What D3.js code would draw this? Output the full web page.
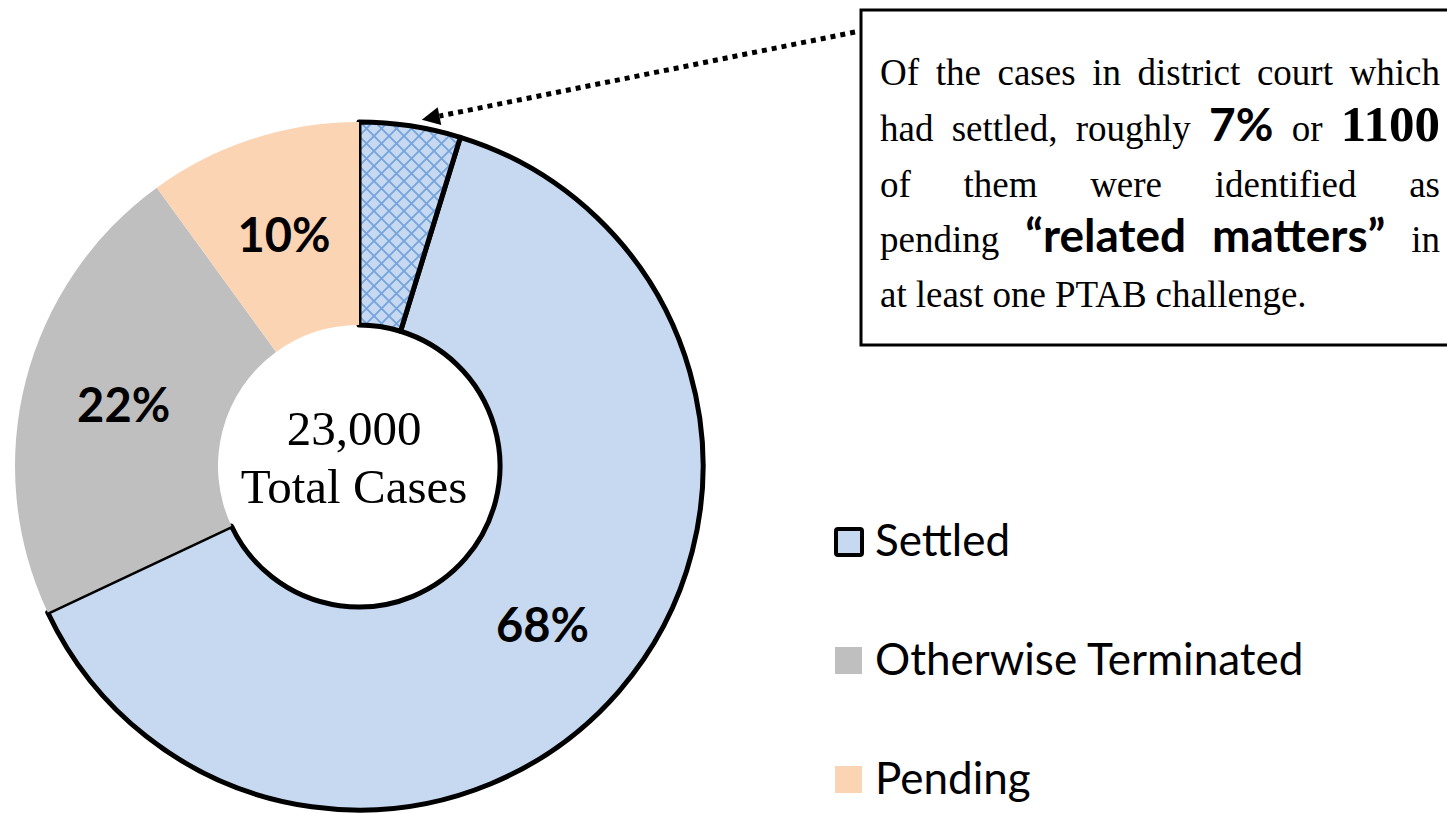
<!DOCTYPE html>
<html>
<head>
<meta charset="utf-8">
<script src="https://cdn.jsdelivr.net/npm/d3@7"></script>
<style>
  body { margin: 0; background: #fff; }
  svg { display: block; }
</style>
</head>
<body>
<div id="chart"></div>
<script>
// chart data
const categories = ["Settled", "Otherwise Terminated", "Pending"];
const shares = [68, 22, 10];
const colors = ["#c6d9f0", "#bfbfbf", "#fbd4b4"];
const relatedPctOfSettled = 7;   // hatched part of the settled slice
const totalLabel = ["23,000", "Total Cases"];

// callout text, one entry per line (b = bold run)
const noteLines = [
  [{t: "Of the cases in district court which"}],
  [{t: "had settled, roughly"}, {t: "7%", b: "sans"}, {t: "or"}, {t: "1100", b: "serif"}],
  [{t: "of them were identified as"}],
  [{t: "pending"}, {t: "\u201crelated matters\u201d", b: "sans"}, {t: "in"}],
  [{t: "at least one PTAB challenge."}]
];

const width = 1447, height = 813;
const cx = 359, cy = 466, outerR = 344, innerR = 141;

const svg = d3.select("#chart")
  .append("svg")
  .attr("width", width)
  .attr("height", height);

// crosshatch pattern for the related-matters part
const defs = svg.append("defs");
const tile = 15;
const pat = defs.append("pattern")
  .attr("id", "hatch")
  .attr("patternUnits", "userSpaceOnUse")
  .attr("width", tile).attr("height", tile);
pat.append("rect").attr("width", tile).attr("height", tile).attr("fill", colors[0]);
pat.append("path")
  .attr("d", `M0,0L${tile},${tile}M${tile},0L0,${tile}`)
  .attr("stroke", "#74a3de").attr("stroke-width", 1.8);

const g = svg.append("g").attr("transform", `translate(${cx},${cy})`);

const pie = d3.pie().sort(null).value(d => d)(shares);
const arc = d3.arc().innerRadius(innerR).outerRadius(outerR);

// split settled slice into hatched + plain
const s = pie[0];
const splitAngle = s.startAngle + (s.endAngle - s.startAngle) * relatedPctOfSettled / 100;
const settledRest = {startAngle: splitAngle, endAngle: s.endAngle};
const settledRel = {startAngle: s.startAngle, endAngle: splitAngle};

g.append("path")
  .attr("d", arc(settledRest))
  .attr("fill", colors[0])
  .attr("stroke", "#000").attr("stroke-width", 5).attr("stroke-linejoin", "round");
g.append("path")
  .attr("d", arc(settledRel))
  .attr("fill", "url(#hatch)")
  .attr("stroke", "#000").attr("stroke-width", 5).attr("stroke-linejoin", "round");

// other slices drawn over, hiding half of the settled outline
g.selectAll(".other")
  .data(pie.slice(1))
  .join("path")
  .attr("class", "other")
  .attr("d", arc)
  .attr("fill", (d, i) => colors[i + 1]);

// percentage labels
const labelArc = d3.arc().innerRadius(243).outerRadius(243);
const labelSlices = [settledRest, pie[1], pie[2]];
g.selectAll(".pct")
  .data(labelSlices)
  .join("text")
  .attr("class", "pct")
  .attr("transform", d => `translate(${labelArc.centroid(d)})`)
  .attr("text-anchor", "middle")
  .attr("dy", "0.36em")
  .style("font-family", "Lato, 'Open Sans', sans-serif")
  .style("font-weight", "bold")
  .style("font-size", "47px")
  .text((d, i) => shares[i] + "%");

// centre text
g.selectAll(".center")
  .data(totalLabel)
  .join("text")
  .attr("class", "center")
  .attr("x", -5)
  .attr("y", (d, i) => -21 + i * 58)
  .attr("text-anchor", "middle")
  .style("font-family", "'Liberation Serif', serif")
  .style("font-size", "49px")
  .text(d => d);

// callout box
svg.append("rect")
  .attr("x", 861).attr("y", 10)
  .attr("width", 620).attr("height", 335)
  .attr("fill", "#fff")
  .attr("stroke", "#000").attr("stroke-width", 3);

// dotted arrow pointing at the hatched slice
const tipAngle = settledRel.startAngle + (settledRel.endAngle - settledRel.startAngle) * 0.6;
const tip = [cx + (outerR + 8) * Math.sin(tipAngle), cy - (outerR + 8) * Math.cos(tipAngle)];
const tail = [855, 32];
const ang = Math.atan2(tail[1] - tip[1], tail[0] - tip[0]);
const headLen = 18, headW = 9;
const base = [tip[0] + headLen * Math.cos(ang), tip[1] + headLen * Math.sin(ang)];
svg.append("line")
  .attr("x1", tail[0]).attr("y1", tail[1])
  .attr("x2", base[0]).attr("y2", base[1])
  .attr("stroke", "#000").attr("stroke-width", 5)
  .attr("stroke-dasharray", "5,5");
svg.append("path")
  .attr("d", d3.line()([
    tip,
    [base[0] - headW * Math.sin(ang), base[1] + headW * Math.cos(ang)],
    [base[0] + headW * Math.sin(ang), base[1] - headW * Math.cos(ang)]
  ]) + "Z")
  .attr("fill", "#000");

// justified callout text
const textX0 = 880, textX1 = 1440;
const baselines = [85, 141, 197, 252, 307];
const serif = "'Liberation Serif', serif";
noteLines.forEach(function(line, li) {
  const words = [];
  line.forEach(function(run) {
    run.t.split(" ").forEach(w => words.push({t: w, b: run.b}));
  });
  const nodes = words.map(function(w) {
    const t = svg.append("text")
      .attr("y", baselines[li])
      .style("font-family", w.b === "sans" ? "Lato, sans-serif" : serif)
      .style("font-weight", w.b ? "bold" : "normal")
      .style("font-size", w.b === "serif" ? "51px" : w.b ? "46px" : "37px")
      .text(w.t);
    return t;
  });
  const widths = nodes.map(n => n.node().getComputedTextLength());
  const total = d3.sum(widths);
  const last = li === noteLines.length - 1;
  const gap = last ? 9 : (textX1 - textX0 - total) / (nodes.length - 1);
  let x = textX0;
  nodes.forEach(function(n, i) {
    n.attr("x", x);
    x += widths[i] + gap;
  });
});

// legend
const legend = svg.selectAll(".legend")
  .data(categories)
  .join("g")
  .attr("class", "legend")
  .attr("transform", (d, i) => `translate(835, ${528 + i * 119})`);
legend.append("rect")
  .attr("x", (d, i) => i === 0 ? 1 : 0)
  .attr("y", (d, i) => i === 0 ? 1 : 0)
  .attr("width", (d, i) => i === 0 ? 26 : 27)
  .attr("height", (d, i) => i === 0 ? 26 : 27)
  .attr("rx", (d, i) => i === 0 ? 2 : 0)
  .attr("fill", (d, i) => colors[i])
  .attr("stroke", (d, i) => i === 0 ? "#000" : "none")
  .attr("stroke-width", 4);
legend.append("text")
  .attr("x", 40)
  .attr("y", 28)
  .style("font-family", "Lato, 'Open Sans', sans-serif")
  .style("font-size", "44px")
  .text(d => d);
</script>
</body>
</html>
